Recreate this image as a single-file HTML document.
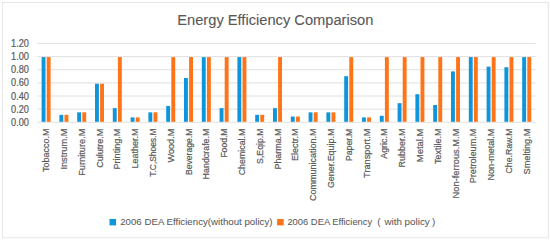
<!DOCTYPE html>
<html><head><meta charset="utf-8"><style>
html,body{margin:0;padding:0;background:#fff;width:550px;height:241px;overflow:hidden}
svg{display:block}
text{font-family:"Liberation Sans", sans-serif;stroke:#595959;stroke-width:0.2px}
</style></head><body>
<svg width="550" height="241" viewBox="0 0 550 241">
<rect width="550" height="241" fill="#fff"/>
<rect x="2.5" y="2.5" width="545.8" height="235.3" fill="none" stroke="#e6e6e6" stroke-width="1"/>
<text x="177.3" y="24.6" style="stroke-width:0.1px" textLength="196" lengthAdjust="spacingAndGlyphs" font-size="14.0" fill="#595959">Energy Efficiency Comparison</text>
<line x1="37.2" x2="535.6" y1="122.30" y2="122.30" stroke="#e0e0e0" stroke-width="1"/>
<text x="29.0" y="125.90" text-anchor="end" textLength="17.9" lengthAdjust="spacingAndGlyphs" font-size="10.4" fill="#595959">0.00</text>
<line x1="37.2" x2="535.6" y1="109.16" y2="109.16" stroke="#e0e0e0" stroke-width="1"/>
<text x="29.0" y="112.76" text-anchor="end" textLength="17.9" lengthAdjust="spacingAndGlyphs" font-size="10.4" fill="#595959">0.20</text>
<line x1="37.2" x2="535.6" y1="96.02" y2="96.02" stroke="#e0e0e0" stroke-width="1"/>
<text x="29.0" y="99.62" text-anchor="end" textLength="17.9" lengthAdjust="spacingAndGlyphs" font-size="10.4" fill="#595959">0.40</text>
<line x1="37.2" x2="535.6" y1="82.88" y2="82.88" stroke="#e0e0e0" stroke-width="1"/>
<text x="29.0" y="86.48" text-anchor="end" textLength="17.9" lengthAdjust="spacingAndGlyphs" font-size="10.4" fill="#595959">0.60</text>
<line x1="37.2" x2="535.6" y1="69.74" y2="69.74" stroke="#e0e0e0" stroke-width="1"/>
<text x="29.0" y="73.34" text-anchor="end" textLength="17.9" lengthAdjust="spacingAndGlyphs" font-size="10.4" fill="#595959">0.80</text>
<line x1="37.2" x2="535.6" y1="56.60" y2="56.60" stroke="#e0e0e0" stroke-width="1"/>
<text x="29.0" y="60.20" text-anchor="end" textLength="17.9" lengthAdjust="spacingAndGlyphs" font-size="10.4" fill="#595959">1.00</text>
<line x1="37.2" x2="535.6" y1="43.46" y2="43.46" stroke="#e0e0e0" stroke-width="1"/>
<text x="29.0" y="47.06" text-anchor="end" textLength="17.9" lengthAdjust="spacingAndGlyphs" font-size="10.4" fill="#595959">1.20</text>
<rect x="41.60" y="57.10" width="3.9" height="64.70" fill="#0f95da"/>
<rect x="46.70" y="57.10" width="3.9" height="64.70" fill="#ff7418"/>
<text transform="translate(49.10,128.6) rotate(-90)" text-anchor="end" textLength="43.30" lengthAdjust="spacingAndGlyphs" font-size="9.8" fill="#595959">Tobacco.M</text>
<rect x="59.40" y="114.85" width="3.9" height="6.95" fill="#0f95da"/>
<rect x="64.50" y="114.85" width="3.9" height="6.95" fill="#ff7418"/>
<text transform="translate(66.90,128.6) rotate(-90)" text-anchor="end" textLength="41.00" lengthAdjust="spacingAndGlyphs" font-size="9.8" fill="#595959">Instrum.M</text>
<rect x="77.20" y="112.35" width="3.9" height="9.45" fill="#0f95da"/>
<rect x="82.30" y="112.35" width="3.9" height="9.45" fill="#ff7418"/>
<text transform="translate(84.70,128.6) rotate(-90)" text-anchor="end" textLength="47.20" lengthAdjust="spacingAndGlyphs" font-size="9.8" fill="#595959">Furniture.M</text>
<rect x="95.00" y="83.71" width="3.9" height="38.09" fill="#0f95da"/>
<rect x="100.10" y="83.71" width="3.9" height="38.09" fill="#ff7418"/>
<text transform="translate(102.50,128.6) rotate(-90)" text-anchor="end" textLength="39.20" lengthAdjust="spacingAndGlyphs" font-size="9.8" fill="#595959">Culutre.M</text>
<rect x="112.80" y="108.15" width="3.9" height="13.65" fill="#0f95da"/>
<rect x="117.90" y="57.10" width="3.9" height="64.70" fill="#ff7418"/>
<text transform="translate(120.30,128.6) rotate(-90)" text-anchor="end" textLength="40.90" lengthAdjust="spacingAndGlyphs" font-size="9.8" fill="#595959">Printing.M</text>
<rect x="130.60" y="117.41" width="3.9" height="4.39" fill="#0f95da"/>
<rect x="135.70" y="117.41" width="3.9" height="4.39" fill="#ff7418"/>
<text transform="translate(138.10,128.6) rotate(-90)" text-anchor="end" textLength="39.80" lengthAdjust="spacingAndGlyphs" font-size="9.8" fill="#595959">Leather.M</text>
<rect x="148.40" y="112.35" width="3.9" height="9.45" fill="#0f95da"/>
<rect x="153.50" y="112.35" width="3.9" height="9.45" fill="#ff7418"/>
<text transform="translate(155.90,128.6) rotate(-90)" text-anchor="end" textLength="48.10" lengthAdjust="spacingAndGlyphs" font-size="9.8" fill="#595959">T.C,Shoes.M</text>
<rect x="166.20" y="105.92" width="3.9" height="15.88" fill="#0f95da"/>
<rect x="171.30" y="57.10" width="3.9" height="64.70" fill="#ff7418"/>
<text transform="translate(173.70,128.6) rotate(-90)" text-anchor="end" textLength="34.00" lengthAdjust="spacingAndGlyphs" font-size="9.8" fill="#595959">Wood.M</text>
<rect x="184.00" y="77.99" width="3.9" height="43.81" fill="#0f95da"/>
<rect x="189.10" y="57.10" width="3.9" height="64.70" fill="#ff7418"/>
<text transform="translate(191.50,128.6) rotate(-90)" text-anchor="end" textLength="46.40" lengthAdjust="spacingAndGlyphs" font-size="9.8" fill="#595959">Beverage.M</text>
<rect x="201.80" y="57.10" width="3.9" height="64.70" fill="#0f95da"/>
<rect x="206.90" y="57.10" width="3.9" height="64.70" fill="#ff7418"/>
<text transform="translate(209.30,128.6) rotate(-90)" text-anchor="end" textLength="50.80" lengthAdjust="spacingAndGlyphs" font-size="9.8" fill="#595959">Handcrafe.M</text>
<rect x="219.60" y="108.15" width="3.9" height="13.65" fill="#0f95da"/>
<rect x="224.70" y="57.10" width="3.9" height="64.70" fill="#ff7418"/>
<text transform="translate(227.10,128.6) rotate(-90)" text-anchor="end" textLength="29.00" lengthAdjust="spacingAndGlyphs" font-size="9.8" fill="#595959">Food.M</text>
<rect x="237.40" y="57.10" width="3.9" height="64.70" fill="#0f95da"/>
<rect x="242.50" y="57.10" width="3.9" height="64.70" fill="#ff7418"/>
<text transform="translate(244.90,128.6) rotate(-90)" text-anchor="end" textLength="46.70" lengthAdjust="spacingAndGlyphs" font-size="9.8" fill="#595959">Chemical.M</text>
<rect x="255.20" y="114.85" width="3.9" height="6.95" fill="#0f95da"/>
<rect x="260.30" y="114.85" width="3.9" height="6.95" fill="#ff7418"/>
<text transform="translate(262.70,128.6) rotate(-90)" text-anchor="end" textLength="35.30" lengthAdjust="spacingAndGlyphs" font-size="9.8" fill="#595959">S,Eqip.M</text>
<rect x="273.00" y="108.15" width="3.9" height="13.65" fill="#0f95da"/>
<rect x="278.10" y="57.10" width="3.9" height="64.70" fill="#ff7418"/>
<text transform="translate(280.50,128.6) rotate(-90)" text-anchor="end" textLength="40.90" lengthAdjust="spacingAndGlyphs" font-size="9.8" fill="#595959">Pharma.M</text>
<rect x="290.80" y="116.56" width="3.9" height="5.24" fill="#0f95da"/>
<rect x="295.90" y="116.56" width="3.9" height="5.24" fill="#ff7418"/>
<text transform="translate(298.30,128.6) rotate(-90)" text-anchor="end" textLength="32.50" lengthAdjust="spacingAndGlyphs" font-size="9.8" fill="#595959">Electr.M</text>
<rect x="308.60" y="112.35" width="3.9" height="9.45" fill="#0f95da"/>
<rect x="313.70" y="112.35" width="3.9" height="9.45" fill="#ff7418"/>
<text transform="translate(316.10,128.6) rotate(-90)" text-anchor="end" textLength="72.40" lengthAdjust="spacingAndGlyphs" font-size="9.8" fill="#595959">Communication.M</text>
<rect x="326.40" y="112.35" width="3.9" height="9.45" fill="#0f95da"/>
<rect x="331.50" y="112.35" width="3.9" height="9.45" fill="#ff7418"/>
<text transform="translate(333.90,128.6) rotate(-90)" text-anchor="end" textLength="59.50" lengthAdjust="spacingAndGlyphs" font-size="9.8" fill="#595959">Gener.Equip.M</text>
<rect x="344.20" y="76.22" width="3.9" height="45.58" fill="#0f95da"/>
<rect x="349.30" y="57.10" width="3.9" height="64.70" fill="#ff7418"/>
<text transform="translate(351.70,128.6) rotate(-90)" text-anchor="end" textLength="32.50" lengthAdjust="spacingAndGlyphs" font-size="9.8" fill="#595959">Paper.M</text>
<rect x="362.00" y="117.41" width="3.9" height="4.39" fill="#0f95da"/>
<rect x="367.10" y="117.41" width="3.9" height="4.39" fill="#ff7418"/>
<text transform="translate(369.50,128.6) rotate(-90)" text-anchor="end" textLength="49.30" lengthAdjust="spacingAndGlyphs" font-size="9.8" fill="#595959">Transport.M</text>
<rect x="379.80" y="115.77" width="3.9" height="6.03" fill="#0f95da"/>
<rect x="384.90" y="57.10" width="3.9" height="64.70" fill="#ff7418"/>
<text transform="translate(387.30,128.6) rotate(-90)" text-anchor="end" textLength="30.20" lengthAdjust="spacingAndGlyphs" font-size="9.8" fill="#595959">Agric.M</text>
<rect x="397.60" y="103.16" width="3.9" height="18.64" fill="#0f95da"/>
<rect x="402.70" y="57.10" width="3.9" height="64.70" fill="#ff7418"/>
<text transform="translate(405.10,128.6) rotate(-90)" text-anchor="end" textLength="39.00" lengthAdjust="spacingAndGlyphs" font-size="9.8" fill="#595959">Rubber.M</text>
<rect x="415.40" y="94.22" width="3.9" height="27.58" fill="#0f95da"/>
<rect x="420.50" y="57.10" width="3.9" height="64.70" fill="#ff7418"/>
<text transform="translate(422.90,128.6) rotate(-90)" text-anchor="end" textLength="33.60" lengthAdjust="spacingAndGlyphs" font-size="9.8" fill="#595959">Metal.M</text>
<rect x="433.20" y="105.00" width="3.9" height="16.80" fill="#0f95da"/>
<rect x="438.30" y="57.10" width="3.9" height="64.70" fill="#ff7418"/>
<text transform="translate(440.70,128.6) rotate(-90)" text-anchor="end" textLength="35.30" lengthAdjust="spacingAndGlyphs" font-size="9.8" fill="#595959">Textile.M</text>
<rect x="451.00" y="71.42" width="3.9" height="50.38" fill="#0f95da"/>
<rect x="456.10" y="57.10" width="3.9" height="64.70" fill="#ff7418"/>
<text transform="translate(458.50,128.6) rotate(-90)" text-anchor="end" textLength="69.80" lengthAdjust="spacingAndGlyphs" font-size="9.8" fill="#595959">Non-ferrous.M.M</text>
<rect x="468.80" y="57.10" width="3.9" height="64.70" fill="#0f95da"/>
<rect x="473.90" y="57.10" width="3.9" height="64.70" fill="#ff7418"/>
<text transform="translate(476.30,128.6) rotate(-90)" text-anchor="end" textLength="54.70" lengthAdjust="spacingAndGlyphs" font-size="9.8" fill="#595959">Pretroleum.M</text>
<rect x="486.60" y="66.63" width="3.9" height="55.17" fill="#0f95da"/>
<rect x="491.70" y="57.10" width="3.9" height="64.70" fill="#ff7418"/>
<text transform="translate(494.10,128.6) rotate(-90)" text-anchor="end" textLength="51.90" lengthAdjust="spacingAndGlyphs" font-size="9.8" fill="#595959">Non-metal.M</text>
<rect x="504.40" y="67.22" width="3.9" height="54.58" fill="#0f95da"/>
<rect x="509.50" y="57.10" width="3.9" height="64.70" fill="#ff7418"/>
<text transform="translate(511.90,128.6) rotate(-90)" text-anchor="end" textLength="44.80" lengthAdjust="spacingAndGlyphs" font-size="9.8" fill="#595959">Che.Raw.M</text>
<rect x="522.20" y="57.10" width="3.9" height="64.70" fill="#0f95da"/>
<rect x="527.30" y="57.10" width="3.9" height="64.70" fill="#ff7418"/>
<text transform="translate(529.70,128.6) rotate(-90)" text-anchor="end" textLength="45.90" lengthAdjust="spacingAndGlyphs" font-size="9.8" fill="#595959">Smelting.M</text>
<rect x="109.5" y="219.0" width="6.6" height="6.4" fill="#0f95da"/>
<text x="120.2" y="225.4" textLength="152.3" lengthAdjust="spacingAndGlyphs" font-size="9.8" style="stroke-width:0.05px" fill="#595959">2006 DEA Efficiency(without policy)</text>
<rect x="277.1" y="219.0" width="6.6" height="6.4" fill="#ff7418"/>
<text x="287.4" y="225.4" textLength="84.8" lengthAdjust="spacingAndGlyphs" font-size="9.8" style="stroke-width:0.05px" fill="#595959">2006 DEA Efficiency</text>
<text x="377.3" y="225.4" font-size="9.8" style="stroke-width:0.05px" fill="#595959">(</text>
<text x="384.4" y="225.4" textLength="45.4" lengthAdjust="spacingAndGlyphs" font-size="9.8" style="stroke-width:0.05px" fill="#595959">with policy</text>
<text x="432.0" y="225.4" font-size="9.8" style="stroke-width:0.05px" fill="#595959">)</text>
</svg>
</body></html>
